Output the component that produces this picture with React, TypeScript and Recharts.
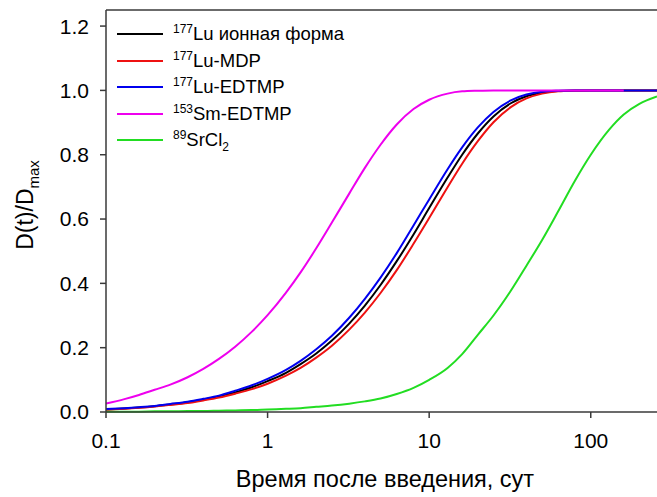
import React from "react";
import { Label, Line, LineChart, ReferenceLine, XAxis, YAxis } from "recharts";

// time after injection, days
const days = [0.1, 0.13, 0.16, 0.2, 0.25, 0.32, 0.4, 0.5, 0.63, 0.8, 1, 1.3, 1.6, 2, 2.5, 3.2, 4, 5, 6.3, 8, 10, 13, 16, 20, 25, 32, 40, 50, 63, 80, 100, 130, 160, 200, 257];

// D(t)/Dmax
const luIonic = [0.008, 0.011, 0.014, 0.018, 0.023, 0.03, 0.038, 0.048, 0.061, 0.077, 0.096, 0.122, 0.149, 0.182, 0.222, 0.275, 0.331, 0.395, 0.469, 0.552, 0.634, 0.729, 0.8, 0.866, 0.919, 0.96, 0.982, 0.993, 0.998, 1, 1, 1, 1, 1, 1];
const luMdp = [0.007, 0.01, 0.013, 0.017, 0.022, 0.028, 0.036, 0.045, 0.057, 0.071, 0.088, 0.113, 0.137, 0.169, 0.206, 0.256, 0.309, 0.37, 0.441, 0.523, 0.603, 0.699, 0.772, 0.842, 0.901, 0.948, 0.975, 0.99, 0.997, 0.999, 1, 1, 1, 1, 1];
const luEdtmp = [0.009, 0.012, 0.015, 0.019, 0.025, 0.032, 0.041, 0.051, 0.066, 0.083, 0.103, 0.131, 0.159, 0.195, 0.237, 0.293, 0.352, 0.418, 0.494, 0.58, 0.661, 0.755, 0.823, 0.885, 0.933, 0.969, 0.987, 0.996, 0.999, 1, 1, 1, 1, 1, 1];
const smEdtmp = [0.026, 0.04, 0.053, 0.069, 0.085, 0.108, 0.134, 0.165, 0.203, 0.25, 0.301, 0.371, 0.434, 0.509, 0.589, 0.679, 0.759, 0.831, 0.894, 0.942, 0.971, 0.99, 0.997, 0.999, 1, 1, 1, 1, 1, 1, 1, 1, 1, null, null];
const srCl2 = [0.001, 0.001, 0.001, 0.002, 0.002, 0.003, 0.003, 0.004, 0.005, 0.006, 0.008, 0.01, 0.012, 0.016, 0.02, 0.026, 0.033, 0.042, 0.056, 0.075, 0.1, 0.137, 0.18, 0.24, 0.3, 0.377, 0.455, 0.535, 0.625, 0.72, 0.8, 0.878, 0.925, 0.958, 0.981];

const xTicks = [0.1, 1, 10, 100];
const yTicks = [0, 0.2, 0.4, 0.6, 0.8, 1.0, 1.2];

const series = [
  { key: "luIonic", color: "#000000", iso: "177", name: "Lu ионная форма" },
  { key: "luMdp", color: "#ee1111", iso: "177", name: "Lu-MDP" },
  { key: "luEdtmp", color: "#0000ee", iso: "177", name: "Lu-EDTMP" },
  { key: "smEdtmp", color: "#ee00ee", iso: "153", name: "Sm-EDTMP" },
  { key: "srCl2", color: "#22dd22", iso: "89", name: "SrCl", sub: "2" },
];

const data = days.map((t, i) => ({
  t,
  luIonic: luIonic[i],
  luMdp: luMdp[i],
  luEdtmp: luEdtmp[i],
  smEdtmp: smEdtmp[i],
  srCl2: srCl2[i],
}));

const FONT = "'Liberation Sans', Arial, sans-serif";
const AXIS = "#3a3a3a";

function LegendBox() {
  return (
    <div style={{ position: "absolute", left: 117, top: 21, fontFamily: FONT, color: "#000" }}>
      {series.map((s) => (
        <div key={s.key} style={{ display: "flex", alignItems: "center", height: 26.5, lineHeight: 1 }}>
          <svg width={46} height={4} style={{ display: "block" }}>
            <line x1={0} y1={2} x2={46} y2={2} stroke={s.color} strokeWidth={2} />
          </svg>
          <span style={{ marginLeft: 10, fontSize: 18.5, whiteSpace: "nowrap" }}>
            <span style={{ fontSize: 12, position: "relative", top: -7 }}>{s.iso}</span>
            {s.name}
            {s.sub && <span style={{ fontSize: 12, position: "relative", top: 5 }}>{s.sub}</span>}
          </span>
        </div>
      ))}
    </div>
  );
}

export default function App() {
  return (
    <div style={{ position: "absolute", left: 0, top: 0, width: 657, height: 497, fontFamily: FONT }}>
      <LineChart width={657} height={497} data={data} margin={{ top: 10, right: 0, bottom: 55, left: 46 }}>
        <XAxis
          dataKey="t"
          type="number"
          scale="log"
          domain={[0.1, 257]}
          allowDataOverflow
          ticks={xTicks}
          tickFormatter={(v: number) => String(v)}
          height={30}
          tickSize={6}
          tickMargin={15}
          axisLine={{ stroke: AXIS, strokeWidth: 1.5 }}
          tickLine={{ stroke: AXIS, strokeWidth: 1.5 }}
          tick={{ fill: "#000", fontSize: 21, fontFamily: FONT }}
        >
          <Label
            content={() => (
              <text x={385} y={487} textAnchor="middle" fontSize={23.5} fontFamily={FONT} fill="#000">
                Время после введения, сут
              </text>
            )}
          />
        </XAxis>
        <YAxis
          type="number"
          domain={[0, 1.25]}
          ticks={yTicks}
          tickFormatter={(v: number) => v.toFixed(1)}
          width={60}
          tickSize={6}
          tickMargin={11}
          axisLine={{ stroke: AXIS, strokeWidth: 1.5 }}
          tickLine={{ stroke: AXIS, strokeWidth: 1.5 }}
          tick={{ fill: "#000", fontSize: 21, fontFamily: FONT }}
        >
          <Label
            content={() => (
              <text
                x={33}
                y={205}
                textAnchor="middle"
                fontSize={23}
                fontFamily={FONT}
                fill="#000"
                transform="rotate(-90, 33, 205)"
              >
                D(t)/D
                <tspan dy={6} fontSize={15}>max</tspan>
              </text>
            )}
          />
        </YAxis>
        <ReferenceLine y={1.25} stroke={AXIS} strokeWidth={1.5} />
        {series.map((s) => (
          <Line
            key={s.key}
            dataKey={s.key}
            type="monotone"
            stroke={s.color}
            strokeWidth={2}
            dot={false}
            activeDot={false}
            isAnimationActive={false}
          />
        ))}
      </LineChart>
      <LegendBox />
    </div>
  );
}
